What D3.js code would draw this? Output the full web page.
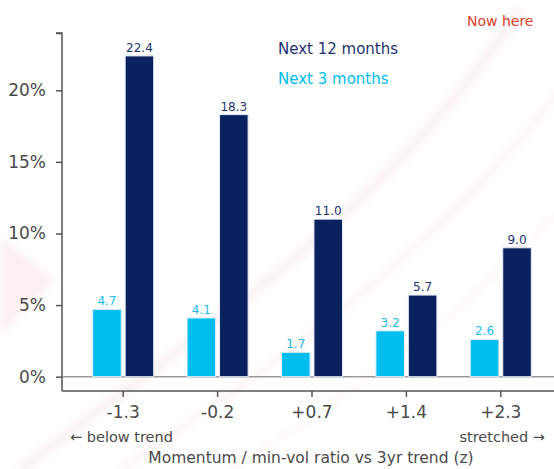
<!DOCTYPE html>
<html>
<head>
<meta charset="utf-8">
<script src="https://cdn.jsdelivr.net/npm/d3@7"></script>
<style>
  html, body { margin: 0; padding: 0; background: #fff; }
  svg { display: block; }
  text { font-family: "DejaVu Sans", sans-serif; }
</style>
</head>
<body>
<svg id="chart" width="554" height="469"></svg>
<script>
// Momentum / min-vol ratio buckets (z-score vs 3yr trend)
const categories = ["-1.3", "-0.2", "+0.7", "+1.4", "+2.3"];
const series = ["Next 3 months", "Next 12 months"];
const next3m = [4.7, 4.1, 1.7, 3.2, 2.6];
const next12m = [22.4, 18.3, 11.0, 5.7, 9.0];
const yTicks = [0, 5, 10, 15, 20];

const colors = { "Next 3 months": "#00bdf0", "Next 12 months": "#0b215e" };
const labelColors = { "Next 3 months": "#1cb9ee", "Next 12 months": "#1e3370" };

const svg = d3.select("#chart");
const W = 554, H = 469;

// faint background swooshes
const defs = svg.append("defs");
defs.append("filter").attr("id", "soft")
  .append("feGaussianBlur").attr("stdDeviation", 4);
const bg = svg.append("g").attr("filter", "url(#soft)").attr("fill", "none");
bg.append("path").attr("d", "M20,470 C200,330 380,220 520,10")
  .attr("stroke", "#f3c9cc").attr("stroke-width", 9).attr("opacity", 0.3);
bg.append("path").attr("d", "M120,470 C280,360 440,250 560,90")
  .attr("stroke", "#f3cfd2").attr("stroke-width", 6).attr("opacity", 0.3);
bg.append("path").attr("d", "M230,470 C360,390 480,300 560,210")
  .attr("stroke", "#f5d6d8").attr("stroke-width", 5).attr("opacity", 0.25);
bg.append("path").attr("d", "M0,235 L55,280 L0,335 Z")
  .attr("fill", "#f6d2d4").attr("opacity", 0.35);

const y = d3.scaleLinear().domain([-1, 24]).range([391, 33]);
const x = d3.scaleBand().domain(categories).range([76, 548]).padding(0);
const bw = x.bandwidth();
const x1 = d3.scaleBand().domain(series)
  .range([bw / 2 - 30.5, bw / 2 + 30.5]).paddingInner(0.12);

const values = { "Next 3 months": next3m, "Next 12 months": next12m };
const rows = categories.map((c, i) => ({
  cat: c,
  items: series.map(s => ({ s, v: values[s][i] }))
}));

// zero line
svg.append("line")
  .attr("x1", 62).attr("x2", W).attr("y1", y(0)).attr("y2", y(0))
  .attr("stroke", "#9a9a9a").attr("stroke-width", 1.5);

// bars
const groups = svg.append("g").selectAll("g").data(rows).join("g")
  .attr("transform", d => `translate(${x(d.cat)},0)`);
groups.selectAll("rect").data(d => d.items).join("rect")
  .attr("x", d => x1(d.s))
  .attr("width", x1.bandwidth())
  .attr("y", d => y(d.v))
  .attr("height", d => y(0) - y(d.v))
  .attr("fill", d => colors[d.s])
  .attr("stroke", "#e4ecf7").attr("stroke-width", 1);
groups.selectAll("text.val").data(d => d.items).join("text")
  .attr("class", "val")
  .attr("x", d => x1(d.s) + x1.bandwidth() / 2)
  .attr("y", d => y(d.v) - 4)
  .attr("text-anchor", "middle")
  .attr("font-size", 12)
  .attr("fill", d => labelColors[d.s])
  .text(d => d.v.toFixed(1));

// y axis
const yAxis = svg.append("g").attr("transform", "translate(62,0)")
  .call(d3.axisLeft(y).tickValues(yTicks.concat([24])).tickSize(6)
    .tickFormat(d => d === 24 ? "" : d + "%"));
yAxis.select(".domain").attr("stroke", "#555").attr("stroke-width", 1.5)
  .attr("d", `M-6,${y(24)}H0V${y(-1)}`);
yAxis.selectAll(".tick line").attr("stroke", "#555").attr("stroke-width", 1.5);
yAxis.selectAll(".tick text").attr("fill", "#4a4a4a")
  .attr("font-size", 17).attr("x", -16)
  .style("font-family", "'DejaVu Sans', sans-serif");

// x axis
const xAxis = svg.append("g").attr("transform", `translate(0,${y(-1)})`)
  .call(d3.axisBottom(x).tickSize(6).tickSizeOuter(0));
xAxis.select(".domain").attr("stroke", "#555").attr("stroke-width", 1.5)
  .attr("d", `M62,0H${W}`);
xAxis.selectAll(".tick line").attr("stroke", "#555").attr("stroke-width", 1.5);
xAxis.selectAll(".tick text").attr("fill", "#4a4a4a")
  .attr("font-size", 17).attr("dy", 0).attr("y", 27)
  .style("font-family", "'DejaVu Sans', sans-serif");

// axis annotations
svg.append("text").attr("x", 70).attr("y", 442)
  .attr("font-size", 14.5).attr("fill", "#4a4a4a").text("← below trend");
svg.append("text").attr("x", 545).attr("y", 442).attr("text-anchor", "end")
  .attr("font-size", 14.5).attr("fill", "#4a4a4a").text("stretched →");
svg.append("text").attr("x", 311).attr("y", 463).attr("text-anchor", "middle")
  .attr("font-size", 15.5).attr("fill", "#4a4a4a")
  .text("Momentum / min-vol ratio vs 3yr trend (z)");

// legend
svg.append("text").attr("x", 278).attr("y", 54)
  .attr("font-size", 15).attr("fill", labelColors["Next 12 months"]).text("Next 12 months");
svg.append("text").attr("x", 278).attr("y", 84)
  .attr("font-size", 15).attr("fill", colors["Next 3 months"]).text("Next 3 months");
svg.append("text").attr("x", 467).attr("y", 26)
  .attr("font-size", 14).attr("fill", "#d8402e").text("Now here");
</script>
</body>
</html>
